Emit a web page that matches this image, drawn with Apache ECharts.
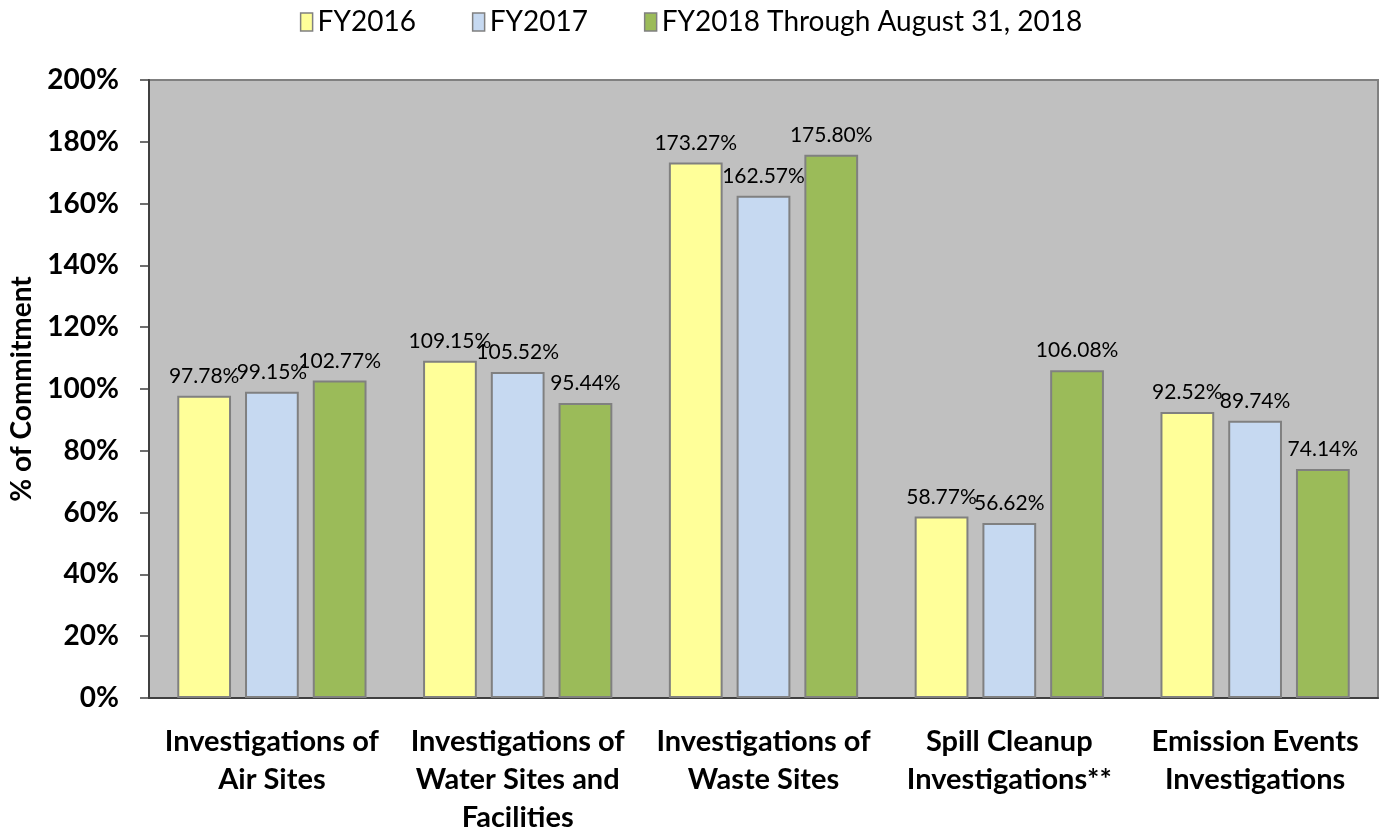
<!DOCTYPE html>
<html>
<head>
<meta charset="utf-8">
<script src="https://cdn.jsdelivr.net/npm/echarts@6/dist/echarts.min.js"></script>
<style>
  html, body { margin: 0; padding: 0; background: #fff; }
  #chart { width: 1382px; height: 830px; }
</style>
</head>
<body>
<div id="chart"></div>
<script>
// categories and values (percent of commitment)
let categories = [
    "Investigations of\nAir Sites",
    "Investigations of\nWater Sites and\nFacilities",
    "Investigations of\nWaste Sites",
    "Spill Cleanup\nInvestigations**",
    "Emission Events\nInvestigations"
];
let fy2016 = [97.78, 109.15, 173.27, 58.77, 92.52];
let fy2017 = [99.15, 105.52, 162.57, 56.62, 89.74];
let fy2018 = [102.77, 95.44, 175.80, 106.08, 74.14];
let seriesNames = ["FY2016", "FY2017", "FY2018 Through August 31, 2018"];
let colors = ["#FFFF99", "#C6D9F1", "#9BBB59"];

let font = "Lato, 'Open Sans', sans-serif";
let myChart = echarts.init(document.getElementById("chart"));

/* 生成系列 */
function makeSeries(name, values, idx) {
    return {
        name: name,
        type: "bar",
        data: values,
        barGap: "26%",
        barCategoryGap: "23%",
        itemStyle: {
            color: colors[idx],
            borderColor: "#808080",
            borderWidth: 2
        },
        label: {
            show: true,
            position: "top",
            distance: 9,
            color: "#000",
            fontFamily: font,
            fontSize: 21,
            formatter: function (p) { return p.value.toFixed(2) + "%"; }
        },
        labelLayout: { hideOverlap: false }
    };
}

myChart.setOption({
    animation: false,
    textStyle: { fontFamily: font },
    legend: {
        top: 3,
        left: "center",
        itemWidth: 12,
        itemHeight: 18,
        itemGap: 56,
        icon: "rect",
        itemStyle: { borderColor: "#808080", borderWidth: 1.5 },
        textStyle: { fontSize: 28, color: "#000", fontFamily: font },
        data: seriesNames
    },
    grid: {
        left: 149,
        right: 4,
        top: 80,
        bottom: 132,
        outerBoundsMode: "none",
        containLabel: false,
        show: true,
        backgroundColor: "#C0C0C0",
        borderColor: "#808080",
        borderWidth: 2
    },
    xAxis: {
        type: "category",
        data: categories,
        axisTick: { show: false },
        axisLine: { lineStyle: { color: "#404040", width: 2 } },
        axisLabel: {
            interval: 0,
            margin: 25,
            color: "#000",
            fontWeight: "bold",
            fontSize: 29,
            lineHeight: 38,
            fontFamily: font
        }
    },
    yAxis: {
        type: "value",
        min: 0,
        max: 200,
        interval: 20,
        name: "% of Commitment",
        nameLocation: "middle",
        nameGap: 113,
        nameTextStyle: { fontSize: 28, fontWeight: "bold", color: "#000", fontFamily: font },
        axisLine: { show: true, lineStyle: { color: "#404040", width: 2 } },
        axisTick: { show: true, length: 9, lineStyle: { color: "#404040", width: 1.5 } },
        splitLine: { show: false },
        axisLabel: {
            margin: 30,
            color: "#000",
            fontWeight: "bold",
            fontSize: 28,
            fontFamily: font,
            formatter: "{value}%"
        }
    },
    series: [
        makeSeries(seriesNames[0], fy2016, 0),
        makeSeries(seriesNames[1], fy2017, 1),
        makeSeries(seriesNames[2], fy2018, 2)
    ]
});
</script>
</body>
</html>
